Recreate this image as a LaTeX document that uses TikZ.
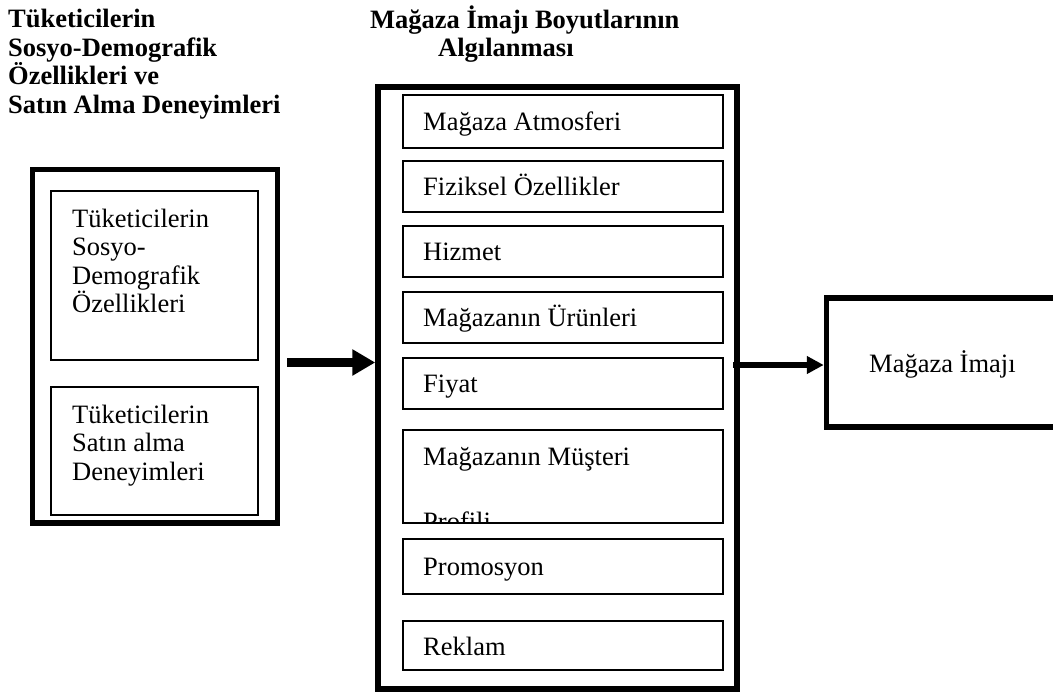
\documentclass[tikz,border=0pt]{standalone}
\usepackage{fontspec}
\setmainfont{Liberation Serif}
\usetikzlibrary{arrows.meta}
\begin{document}
\begin{tikzpicture}[x=1pt,y=-1pt,
  thickbox/.style={draw, line width=5.5pt, rectangle, inner sep=0pt},
  thinbox/.style={draw, line width=1.8pt, rectangle, inner sep=0pt},
  lbl/.style={anchor=base west, inner sep=0pt, font=\fontsize{26.5}{28.5}\selectfont, align=left},
  ttl/.style={anchor=base west, inner sep=0pt, font=\fontsize{26.5}{28.5}\selectfont\bfseries, align=left},
  connA/.style={line width=8.5pt, -{Triangle[length=23pt,width=25pt]}},
  connB/.style={line width=6.5pt, -{Triangle[length=17pt,width=17pt]}}]
\useasboundingbox (0,0) rectangle (1053,693);

% titles (anchor = baseline of last line)
\node[ttl] (t1) at (8,113.5) {Tüketicilerin\\Sosyo-Demografik\\Özellikleri ve\\Satın Alma Deneyimleri};
\node[ttl] (t2a) at (370,28.5) {Mağaza İmajı Boyutlarının};
\node[ttl] (t2b) at (438,57) {Algılanması};

% left group
\node[thickbox, minimum width=245pt, minimum height=353.5pt] (L) at (155,346.25) {};
\node[thinbox, minimum width=207pt, minimum height=169pt] (L1) at (154.5,275.5) {};
\node[thinbox, minimum width=207pt, minimum height=128pt] (L2) at (154.5,451) {};
\node[lbl] (L1t) at (72,312.5) {Tüketicilerin\\Sosyo-\\Demografik\\Özellikleri};
\node[lbl] (L2t) at (72,480) {Tüketicilerin\\Satın alma\\Deneyimleri};

% middle group
\node[thickbox, minimum width=359pt, minimum height=602pt] (M) at (557.5,388) {};
\node[thinbox, minimum width=320pt, minimum height=53pt] (m1) at (563,121.5) {};
\node[thinbox, minimum width=320pt, minimum height=51pt] (m2) at (563,186.5) {};
\node[thinbox, minimum width=320pt, minimum height=51pt] (m3) at (563,251.5) {};
\node[thinbox, minimum width=320pt, minimum height=51pt] (m4) at (563,317.5) {};
\node[thinbox, minimum width=320pt, minimum height=51pt] (m5) at (563,383.5) {};
\node[thinbox, minimum width=320pt, minimum height=93pt] (m6) at (563,476.5) {};
\node[thinbox, minimum width=320pt, minimum height=55pt] (m7) at (563,566.5) {};
\node[thinbox, minimum width=320pt, minimum height=49pt] (m8) at (563,645.5) {};

\node[lbl] (m1t) at (423,130.5) {Mağaza Atmosferi};
\node[lbl] (m2t) at (423,195.5) {Fiziksel Özellikler};
\node[lbl] (m3t) at (423,260.5) {Hizmet};
\node[lbl] (m4t) at (423,326.5) {Mağazanın Ürünleri};
\node[lbl] (m5t) at (423,392.5) {Fiyat};
\begin{scope}
  \clip (404,431) rectangle (722,521.5);
  \node[lbl] (m6t) at (423,530) {Mağazanın Müşteri\\[36.5pt]Profili};
\end{scope}
\node[lbl] (m7t) at (423,575.5) {Promosyon};
\node[lbl] (m8t) at (423,655) {Reklam};

% right box
\node[thickbox, minimum width=253.5pt, minimum height=129pt] (R) at (953.25,362.5) {};
\node[lbl] (Rt) at (869,372) {Mağaza İmajı};

% connectors
\coordinate (a1) at (287,362.5);
\draw[connA] (a1) -- (a1 -| M.west);
\coordinate (a2) at (733,365);
\draw[connB] (a2) -- (a2 -| R.west);
\end{tikzpicture}
\end{document}
